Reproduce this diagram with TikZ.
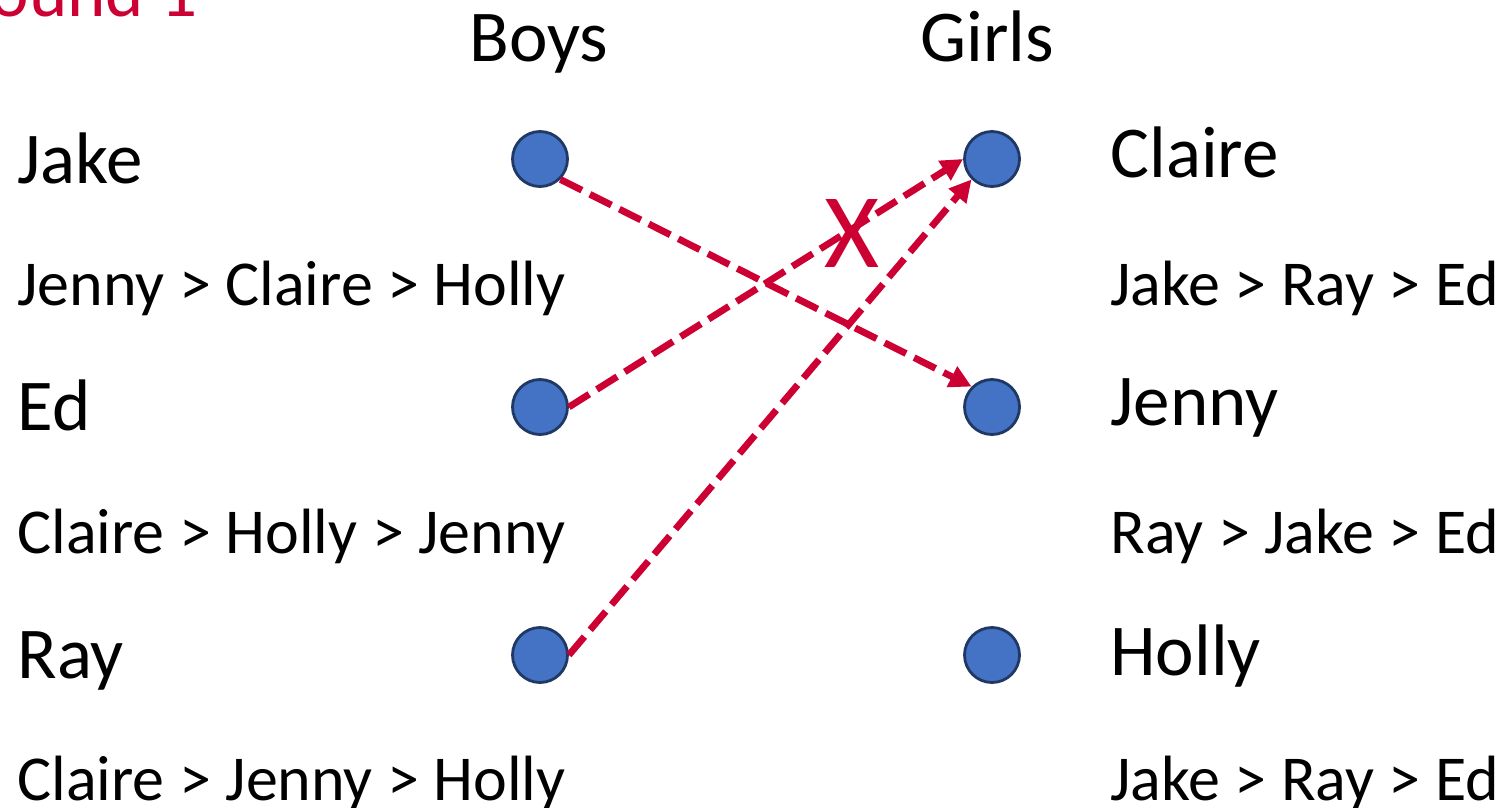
\documentclass[tikz,border=0pt]{standalone}
\usepackage{fontspec}
\setmainfont{Carlito}
\usetikzlibrary{arrows.meta}
\definecolor{accred}{RGB}{204,0,51}
\definecolor{dotfill}{RGB}{68,114,196}
\definecolor{dotline}{RGB}{32,56,100}
\tikzset{
  dot/.style={circle,draw=dotline,fill=dotfill,line width=1.4pt,minimum size=27.5pt,inner sep=0pt},
  namelbl/.style={anchor=base west,inner sep=0pt,font=\fontsize{36.5pt}{41pt}\selectfont},
  preflbl/.style={anchor=base west,inner sep=0pt,font=\fontsize{32pt}{36pt}\selectfont},
  matcharrow/.style={draw=accred,line width=3.4pt,dash pattern=on 12pt off 4.5pt,
    -{Triangle[length=11pt,width=11pt,fill=accred]}},
}
\begin{document}
\begin{tikzpicture}[x=0.5pt,y=-0.5pt]
\useasboundingbox (0,0) rectangle (1507,807);
\clip (0,0) rectangle (1507,807);
\node[anchor=base east,inner sep=0pt,text=accred,font=\fontsize{36.5pt}{41pt}\selectfont] (round) at (198,17) {Round 1};
\node[namelbl] (hboys) at (469,62) {Boys};
\node[namelbl] (hgirls) at (920,62) {Girls};
% left labels
\node[namelbl] (tjake) at (17,184) {Jake};
\node[preflbl] (pjake) at (17,306) {Jenny > Claire > Holly};
\node[namelbl] (ted) at (17,430) {Ed};
\node[preflbl] (ped) at (17,553) {Claire > Holly > Jenny};
\node[namelbl] (tray) at (17,678) {Ray};
\node[preflbl] (pray) at (17,800) {Claire > Jenny > Holly};
% right labels
\node[namelbl] (tclaire) at (1110,178) {Claire};
\node[preflbl] (pclaire) at (1110,306) {Jake > Ray > Ed};
\node[namelbl] (tjenny) at (1110,425) {Jenny};
\node[preflbl] (pjenny) at (1110,553) {Ray > Jake > Ed};
\node[namelbl] (tholly) at (1110,675) {Holly};
\node[preflbl] (pholly) at (1110,800) {Jake > Ray > Ed};
% dots
\node[dot] (bjake) at (540,159) {};
\node[dot] (bed) at (540,407) {};
\node[dot] (bray) at (540,655) {};
\node[dot] (gclaire) at (992,159) {};
\node[dot] (gjenny) at (992,407) {};
\node[dot] (gholly) at (992,655) {};
% arrows
\draw[matcharrow] (bjake.south east) -- (gjenny.north west);
\draw[matcharrow] (bed.east) -- (gclaire.west);
\draw[matcharrow] (bray.east) -- (gclaire.south west);
\node[text=accred,inner sep=0pt,font=\fontsize{53pt}{60pt}\selectfont] (xmark) at (852,233) {X};
\end{tikzpicture}
\end{document}
